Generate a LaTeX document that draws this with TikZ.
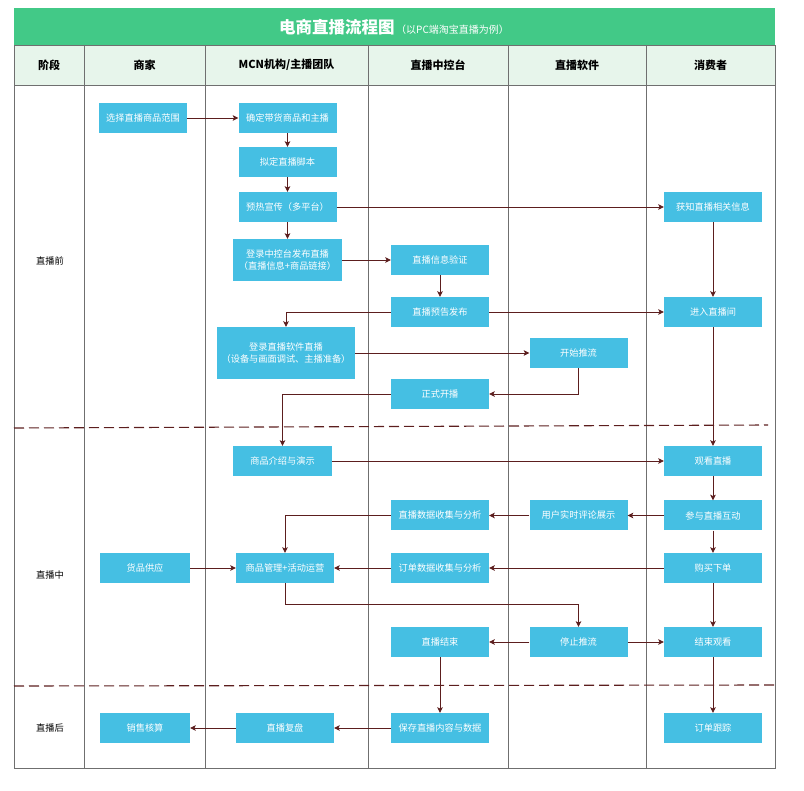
\documentclass[tikz,border=0pt]{standalone}
\usepackage{fontspec}
\setmainfont{Noto Sans CJK SC}
\usetikzlibrary{arrows.meta}
\definecolor{titlegreen}{HTML}{42C987}
\definecolor{headgreen}{HTML}{E7F5EB}
\definecolor{boxblue}{HTML}{45BFE3}
\definecolor{arrowred}{HTML}{5C1E1E}
\definecolor{gridgray}{HTML}{6F6F6F}
\tikzset{
  box/.style={fill=boxblue, text=white, inner sep=1pt, minimum width=98pt, minimum height=30pt,
    font=\fontsize{9.2}{12}\selectfont, align=center},
  conn/.style={draw=arrowred, line width=0.9pt, -{Stealth[length=5.5pt,width=5.5pt,inset=1.2pt]}},
  grid/.style={draw=gridgray, line width=0.9pt},
  phase/.style={draw=arrowred, line width=1.1pt, dash pattern=on 10pt off 5pt},
  headtext/.style={font=\fontsize{11}{13}\selectfont\bfseries},
  rowlabel/.style={font=\fontsize{9.2}{11}\selectfont}
}
\begin{document}
\begin{tikzpicture}[x=1pt,y=-1pt]
\useasboundingbox (0,0) rectangle (804,791);
% title bar
\fill[titlegreen] (14,8) rectangle (775,45);
\node[text=white] (title) at (394,27) {{\fontsize{16.5}{18}\selectfont\bfseries 电商直播流程图}\,{\fontsize{10}{11}\selectfont （以PC端淘宝直播为例）}};
% header
\fill[headgreen] (14,45) rectangle (775,85);
\draw[grid] (14,45) rectangle (775,768);
\draw[grid] (14,85) -- (775,85);
\foreach \xx in {84,205,368,508,646} {\draw[grid] (\xx,45) -- (\xx,768);}
\node[headtext] (h0) at (49,65) {阶段};
\node[headtext] (h1) at (144.5,65) {商家};
\node[headtext] (h2) at (286.5,65) {MCN机构/主播团队};
\node[headtext] (h3) at (438,65) {直播中控台};
\node[headtext] (h4) at (577,65) {直播软件};
\node[headtext] (h5) at (710.5,65) {消费者};
% phase separators
\draw[phase] (14,428) -- (768,425);
\draw[phase] (14,686) -- (775,685);
\node[rowlabel] (r1lab) at (50,261) {直播前};
\node[rowlabel] (r2lab) at (50,575) {直播中};
\node[rowlabel] (r3lab) at (50,728) {直播后};
% boxes
\node[box, minimum width=88pt] (s1) at (143,118) {选择直播商品范围};
\node[box] (s2) at (287.5,118) {确定带货商品和主播};
\node[box] (s3) at (287.5,162) {拟定直播脚本};
\node[box] (s4) at (287.5,207) {预热宣传（多平台）};
\node[box, minimum width=109pt, minimum height=42pt] (s5) at (287.5,260) {登录中控台发布直播\\（直播信息+商品链接）};
\node[box] (v1) at (440,260) {直播信息验证};
\node[box] (v2) at (440,312) {直播预告发布};
\node[box, minimum width=138pt, minimum height=52pt] (L2) at (286,353) {登录直播软件直播\\（设备与画面调试、主播准备）};
\node[box] (p1) at (578.5,353) {开始推流};
\node[box] (k1) at (440,394) {正式开播};
\node[box] (c1) at (713,207) {获知直播相关信息};
\node[box] (c2) at (713,312) {进入直播间};
\node[box, minimum width=99pt] (g1) at (282.5,461) {商品介绍与演示};
\node[box] (w1) at (713,461) {观看直播};
\node[box] (d1) at (440,515.5) {直播数据收集与分析};
\node[box] (u1) at (578.5,515.5) {用户实时评论展示};
\node[box] (w2) at (713,515.5) {参与直播互动};
\node[box, minimum width=90pt] (h1b) at (145,568) {货品供应};
\node[box] (m1) at (285,568) {商品管理+活动运营};
\node[box] (d2) at (440,568) {订单数据收集与分析};
\node[box] (b1) at (713,568) {购买下单};
\node[box] (z1) at (440,642) {直播结束};
\node[box] (t1) at (578.5,642) {停止推流};
\node[box] (e1) at (713,642) {结束观看};
\node[box, minimum width=90pt] (x1) at (145,728) {销售核算};
\node[box] (rr) at (285,728) {直播复盘};
\node[box] (f1) at (440,728) {保存直播内容与数据};
\node[box] (o1) at (713,728) {订单跟踪};
% connectors
\draw[conn] (s1) -- (s2);
\draw[conn] (s2) -- (s3);
\draw[conn] (s3) -- (s4);
\draw[conn] (s4) -- (s5);
\draw[conn] (s4) -- (c1);
\draw[conn] (s5) -- (v1);
\draw[conn] (v1) -- (v2);
\draw[conn] (v2.west) -| (L2.north);
\draw[conn] (v2) -- (c2);
\draw[conn] (c1) -- (c2);
\draw[conn] (L2) -- (p1);
\draw[conn] (p1.south) |- (k1.east);
\draw[conn] (k1.west) -| (g1.north);
\draw[conn] (c2) -- (w1);
\draw[conn] (g1) -- (w1);
\draw[conn] (w1) -- (w2);
\draw[conn] (w2) -- (u1);
\draw[conn] (u1) -- (d1);
\draw[conn] (d1.west) -| (m1.north);
\draw[conn] (w2) -- (b1);
\draw[conn] (b1) -- (d2);
\draw[conn] (d2) -- (m1);
\draw[conn] (h1b) -- (m1);
\draw[conn] (m1.south) -- ++(0,21) -| (t1.north);
\draw[conn] (b1) -- (e1);
\draw[conn] (t1) -- (z1);
\draw[conn] (t1) -- (e1);
\draw[conn] (z1) -- (f1);
\draw[conn] (f1) -- (rr);
\draw[conn] (rr) -- (x1);
\draw[conn] (e1) -- (o1);
\end{tikzpicture}
\end{document}
